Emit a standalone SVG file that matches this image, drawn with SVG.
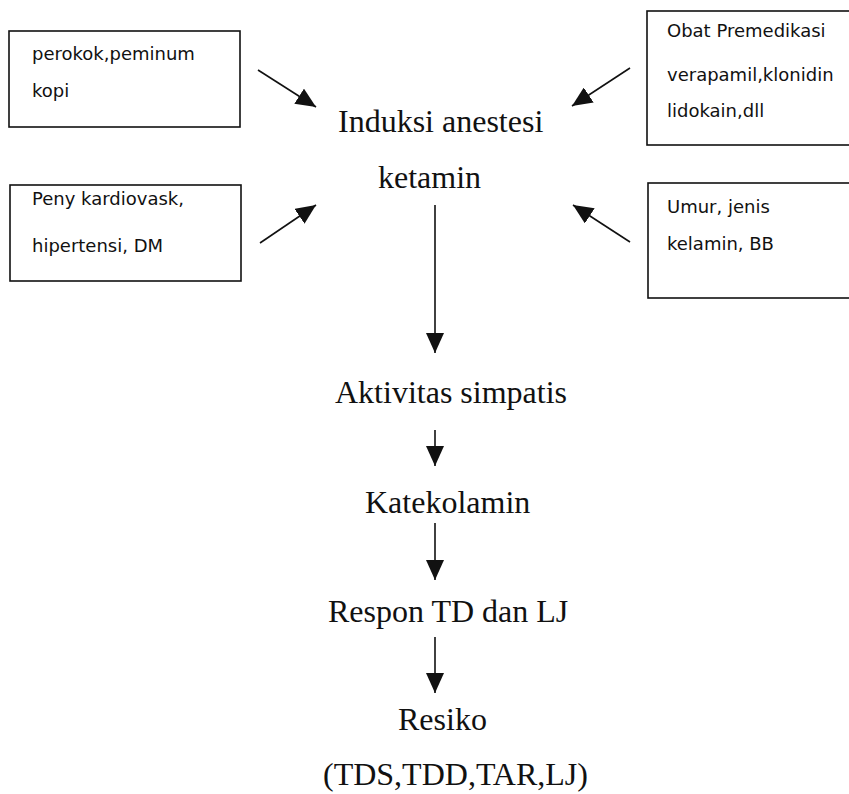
<svg xmlns="http://www.w3.org/2000/svg" width="849" height="794" viewBox="0 0 849 794">
<style>
.box{fill:#fff;stroke:#111;stroke-width:1.6}
.bt{font-family:"DejaVu Sans","Liberation Sans",sans-serif;font-size:18px;fill:#111}
.mt{font-family:"Liberation Serif","Times New Roman",serif;font-size:32px;fill:#111}
.conn{stroke:#111;stroke-width:1.6;fill:none;marker-end:url(#ah)}
</style>
<defs>
<marker id="ah" markerUnits="userSpaceOnUse" markerWidth="20" markerHeight="18" refX="20" refY="9" orient="auto">
<path d="M0,0 L20,9 L0,18 Z" fill="#111"/>
</marker>
</defs>
<rect width="849" height="794" fill="#fff"/>
<g id="n-perokok">
<rect class="box" x="9" y="31" width="231" height="96"/>
<text class="bt" x="32" y="60">perokok,peminum</text>
<text class="bt" x="32" y="97">kopi</text>
</g>
<g id="n-peny">
<rect class="box" x="10" y="185" width="231" height="96"/>
<text class="bt" x="32" y="205">Peny kardiovask,</text>
<text class="bt" x="32" y="252">hipertensi, DM</text>
</g>
<g id="n-obat">
<rect class="box" x="647" y="11" width="210" height="134"/>
<text class="bt" x="667" y="37">Obat Premedikasi</text>
<text class="bt" x="667" y="81">verapamil,klonidin</text>
<text class="bt" x="667" y="117">lidokain,dll</text>
</g>
<g id="n-umur">
<rect class="box" x="648" y="183" width="210" height="115"/>
<text class="bt" x="667" y="213">Umur, jenis</text>
<text class="bt" x="667" y="250">kelamin, BB</text>
</g>
<g id="n-induksi">
<text class="mt" x="338" y="132">Induksi anestesi</text>
<text class="mt" x="378" y="188">ketamin</text>
</g>
<g id="n-aktivitas">
<text class="mt" x="335" y="403">Aktivitas simpatis</text>
</g>
<g id="n-katekolamin">
<text class="mt" x="365" y="513">Katekolamin</text>
</g>
<g id="n-respon">
<text class="mt" x="328" y="622">Respon TD dan LJ</text>
</g>
<g id="n-resiko">
<text class="mt" x="398" y="730">Resiko</text>
<text class="mt" x="323" y="785">(TDS,TDD,TAR,LJ)</text>
</g>
<g id="connectors">
<line class="conn" x1="258" y1="70" x2="316" y2="107"/>
<line class="conn" x1="260" y1="243" x2="316" y2="205"/>
<line class="conn" x1="630" y1="68" x2="572" y2="106"/>
<line class="conn" x1="630" y1="242" x2="573" y2="205"/>
<line class="conn" x1="435" y1="205" x2="435" y2="353"/>
<line class="conn" x1="435" y1="430" x2="435" y2="466"/>
<line class="conn" x1="435" y1="523" x2="435" y2="580"/>
<line class="conn" x1="435" y1="637" x2="435" y2="693"/>
</g>
</svg>
